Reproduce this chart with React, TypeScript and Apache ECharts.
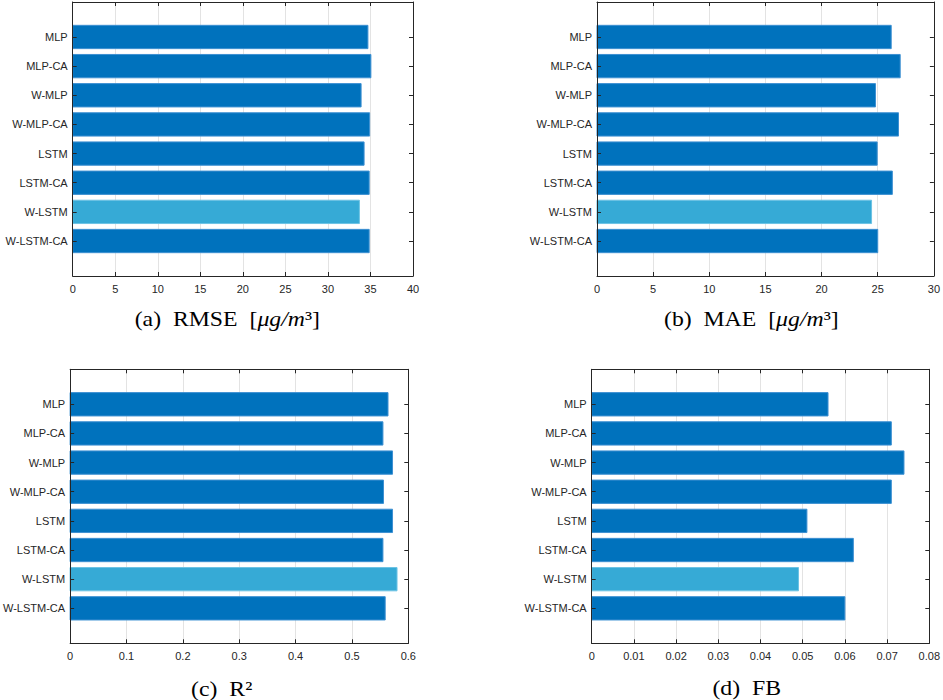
import React, { useEffect, useRef } from "react";
import * as echarts from "echarts";

const categories = ["MLP", "MLP-CA", "W-MLP", "W-MLP-CA", "LSTM", "LSTM-CA", "W-LSTM", "W-LSTM-CA"];
const rmseValues = [34.7, 35.05, 33.9, 34.9, 34.25, 34.85, 33.7, 34.85];
const maeValues = [26.2, 27.0, 24.8, 26.85, 24.95, 26.3, 24.45, 25.0];
const r2Values = [0.564, 0.555, 0.572, 0.556, 0.572, 0.555, 0.58, 0.559];
const fbValues = [0.056, 0.071, 0.074, 0.071, 0.051, 0.062, 0.049, 0.06];
const highlightIndex = 6;

const axisMax = [40, 30, 0.6, 0.08];
const axisInterval = [5, 5, 0.1, 0.01];

const DARK = "#0072BD";
const LIGHT = "#36AAD6";
const AXIS = "#262626";

const grids = [
  { left: 72.7, top: 2, width: 340.3, height: 274 },
  { left: 597, top: 2, width: 341, height: 274 },
  { left: 67.7, top: 369.3, width: 340.6, height: 274 },
  { left: 591.7, top: 369.3, width: 341, height: 274 },
];

const captions = [
  { x: 227.3, y: 319, text: "(a)  RMSE  [{it|μg/m}³]" },
  { x: 751.3, y: 319, text: "(b)  MAE  [{it|μg/m}³]" },
  { x: 221.7, y: 689, text: "(c)  R²" },
  { x: 746.7, y: 688, text: "(d)  FB" },
];

export default function App() {
  const ref = useRef<HTMLDivElement>(null);
  useEffect(() => {
    if (!ref.current) return;
    const chart = echarts.init(ref.current, null, { renderer: "svg" });
    const series = [rmseValues, maeValues, r2Values, fbValues];
    const idx = categories.map((_, i) => i);
    const xAxis: any[] = [];
    const yAxis: any[] = [];
    const seriesOpt: any[] = [];
    series.forEach((vals, g) => {
      xAxis.push({
        type: "value",
        gridIndex: g,
        position: "bottom",
        min: 0,
        max: axisMax[g],
        interval: axisInterval[g],
        axisLine: { show: true, onZero: false, lineStyle: { color: AXIS, width: 1 } },
        axisTick: { show: true, inside: true, length: 4, lineStyle: { color: AXIS } },
        axisLabel: { color: AXIS, fontSize: 11, fontFamily: "Liberation Sans", margin: 7 },
        splitLine: { show: true, lineStyle: { color: "#E3E3E3", width: 1 } },
      });
      xAxis.push({
        type: "value",
        gridIndex: g,
        position: "top",
        min: 0,
        max: axisMax[g],
        interval: axisInterval[g],
        z: 3,
        axisLine: { show: true, onZero: false, lineStyle: { color: AXIS, width: 1 } },
        axisTick: { show: true, inside: true, length: 4, lineStyle: { color: AXIS } },
        axisLabel: { show: false },
        splitLine: { show: false },
      });
      yAxis.push({
        type: "value",
        gridIndex: g,
        position: "left",
        inverse: true,
        min: -1.2,
        max: 8.2,
        z: 3,
        axisLine: { show: true, onZero: false, lineStyle: { color: AXIS, width: 1 } },
        axisTick: { show: true, inside: true, length: 4, customValues: idx, lineStyle: { color: AXIS } },
        axisLabel: {
          show: true,
          customValues: idx,
          color: AXIS,
          fontSize: 11,
          fontFamily: "Liberation Sans",
          margin: 5,
          formatter: (v: number) => categories[Math.round(v)] ?? "",
        },
        splitLine: { show: false },
      });
      yAxis.push({
        type: "value",
        gridIndex: g,
        position: "right",
        inverse: true,
        min: -1.2,
        max: 8.2,
        z: 3,
        axisLine: { show: true, onZero: false, lineStyle: { color: AXIS, width: 1 } },
        axisTick: { show: true, inside: true, length: 4, customValues: idx, lineStyle: { color: AXIS } },
        axisLabel: { show: false },
        splitLine: { show: false },
      });
      seriesOpt.push({
        type: "custom",
        xAxisIndex: g * 2,
        yAxisIndex: g * 2,
        clip: false,
        encode: { x: 0, y: 1 },
        data: vals.map((v, i) => [v, i]),
        renderItem: (params: any, api: any) => {
          const v = api.value(0);
          const i = api.value(1);
          const start = api.coord([0, i]);
          const end = api.coord([v, i]);
          const h = Math.abs(api.size([0, 0.8])[1]);
          const hi = i === highlightIndex;
          return {
            type: "rect",
            shape: { x: start[0], y: start[1] - h / 2, width: end[0] - start[0], height: h },
            style: {
              fill: hi ? LIGHT : DARK,
              stroke: hi ? "#6DC3E4" : "#3D90D2",
              lineWidth: 1,
            },
          };
        },
      });
    });

    const graphic = captions.map((c) => ({
      type: "text",
      x: c.x,
      y: c.y,
      scaleX: 1.08,
      style: {
        text: c.text,
        x: 0,
        y: 0,
        textAlign: "center",
        textVerticalAlign: "middle",
        fill: "#000000",
        fontFamily: "Liberation Serif",
        fontSize: 22,
        rich: {
          it: { fontFamily: "Liberation Serif", fontSize: 22, fontStyle: "italic", fill: "#000000" },
        },
      },
    }));

    chart.setOption({
      animation: false,
      backgroundColor: "#ffffff",
      grid: grids.map((g) => ({ ...g, containLabel: false })),
      xAxis,
      yAxis,
      series: seriesOpt,
      graphic,
    });
    return () => chart.dispose();
  }, []);
  return (
    <div
      ref={ref}
      style={{ position: "fixed", left: 0, top: 0, width: 943, height: 700, background: "#fff" }}
    />
  );
}
